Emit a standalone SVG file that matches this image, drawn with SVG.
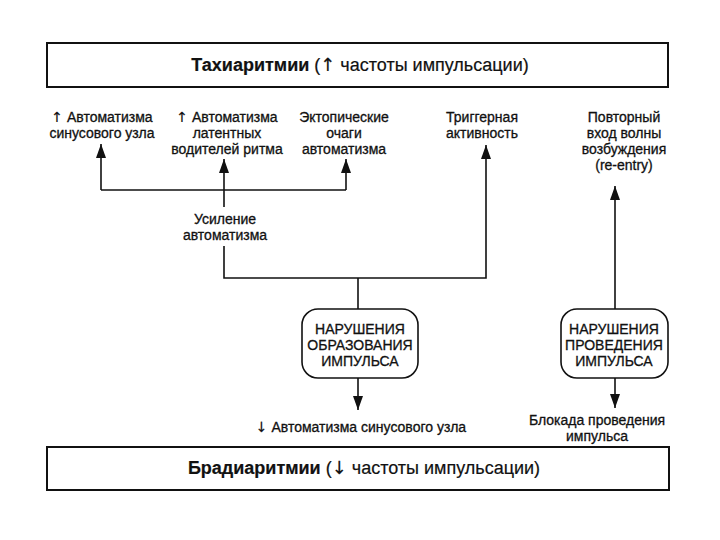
<svg xmlns="http://www.w3.org/2000/svg" width="720" height="540" viewBox="0 0 720 540">
<style>
text{font-family:"Liberation Sans",Arial,"DejaVu Sans",sans-serif;fill:#111;text-anchor:middle;stroke:#111;stroke-width:0.3}
.lb{font-size:14px}
.bx{font-size:14px}
.tt{font-size:18px;stroke-width:0.2}
.b{font-weight:bold}
.ar{font-family:"DejaVu Sans",sans-serif;stroke-width:0.2}
.frame{fill:#fff;stroke:#111;stroke-width:2}
.node{fill:#fff;stroke:#111;stroke-width:1.6}
.ln{fill:none;stroke:#111;stroke-width:1.6}
</style>
<defs>
<marker id="ah" markerUnits="userSpaceOnUse" markerWidth="14" markerHeight="10" viewBox="0 0 14 10" refX="14" refY="5" orient="auto">
<path d="M0 0 L14 5 L0 10 Z" fill="#111"/>
</marker>
</defs>
<rect width="720" height="540" fill="#fff"/>

<g id="tachy">
<rect class="frame" x="47" y="43" width="621" height="44"/>
<text class="tt" x="360" y="71"><tspan class="b">Тахиаритмии</tspan> (<tspan class="ar">↑</tspan> частоты импульсации)</text>
</g>

<g id="brady">
<rect class="frame" x="47" y="447" width="622" height="43"/>
<text class="tt" x="364" y="474"><tspan class="b">Брадиаритмии</tspan> (<tspan class="ar">↓</tspan> частоты импульсации)</text>
</g>

<g id="sinus-auto">
<text class="lb" x="102" y="122"><tspan class="ar">↑</tspan> Автоматизма</text>
<text class="lb" x="102" y="138">синусового узла</text>
</g>
<g id="latent-auto">
<text class="lb" x="227" y="122"><tspan class="ar">↑</tspan> Автоматизма</text>
<text class="lb" x="227" y="138">латентных</text>
<text class="lb" x="227" y="154">водителей ритма</text>
</g>
<g id="ectopic">
<text class="lb" x="344" y="122">Эктопические</text>
<text class="lb" x="344" y="138">очаги</text>
<text class="lb" x="344" y="154">автоматизма</text>
</g>
<g id="trigger">
<text class="lb" x="482" y="122">Триггерная</text>
<text class="lb" x="482" y="138">активность</text>
</g>
<g id="reentry">
<text class="lb" x="624" y="122">Повторный</text>
<text class="lb" x="624" y="138">вход волны</text>
<text class="lb" x="624" y="154">возбуждения</text>
<text class="lb" x="624" y="170">(re-entry)</text>
</g>
<g id="enhance">
<text class="lb" x="225" y="224">Усиление</text>
<text class="lb" x="225" y="240">автоматизма</text>
</g>

<g id="formation">
<rect class="node" x="302" y="309" width="116" height="69" rx="16"/>
<text class="bx" x="360" y="334">НАРУШЕНИЯ</text>
<text class="bx" x="360" y="350">ОБРАЗОВАНИЯ</text>
<text class="bx" x="360" y="366">ИМПУЛЬСА</text>
</g>
<g id="conduction">
<rect class="node" x="561" y="309" width="107" height="69" rx="16"/>
<text class="bx" x="614" y="334">НАРУШЕНИЯ</text>
<text class="bx" x="614" y="350">ПРОВЕДЕНИЯ</text>
<text class="bx" x="614" y="366">ИМПУЛЬСА</text>
</g>
<g id="sinus-down">
<text class="lb" x="361" y="432"><tspan class="ar">↓</tspan> Автоматизма синусового узла</text>
</g>
<g id="block">
<text class="lb" x="597" y="425">Блокада проведения</text>
<text class="lb" x="597" y="441">импульса</text>
</g>

<g id="connectors">
<path class="ln" d="M101 190 H346"/>
<path class="ln" d="M101 190 V144" marker-end="url(#ah)"/>
<path class="ln" d="M346 190 V159" marker-end="url(#ah)"/>
<path class="ln" d="M224 207 V159" marker-end="url(#ah)"/>
<path class="ln" d="M224 246 V278 H486 V145" marker-end="url(#ah)"/>
<path class="ln" d="M358 278 V309"/>
<path class="ln" d="M358 378 V410" marker-end="url(#ah)"/>
<path class="ln" d="M615 309 V186" marker-end="url(#ah)"/>
<path class="ln" d="M615 378 V408" marker-end="url(#ah)"/>
</g>
</svg>
